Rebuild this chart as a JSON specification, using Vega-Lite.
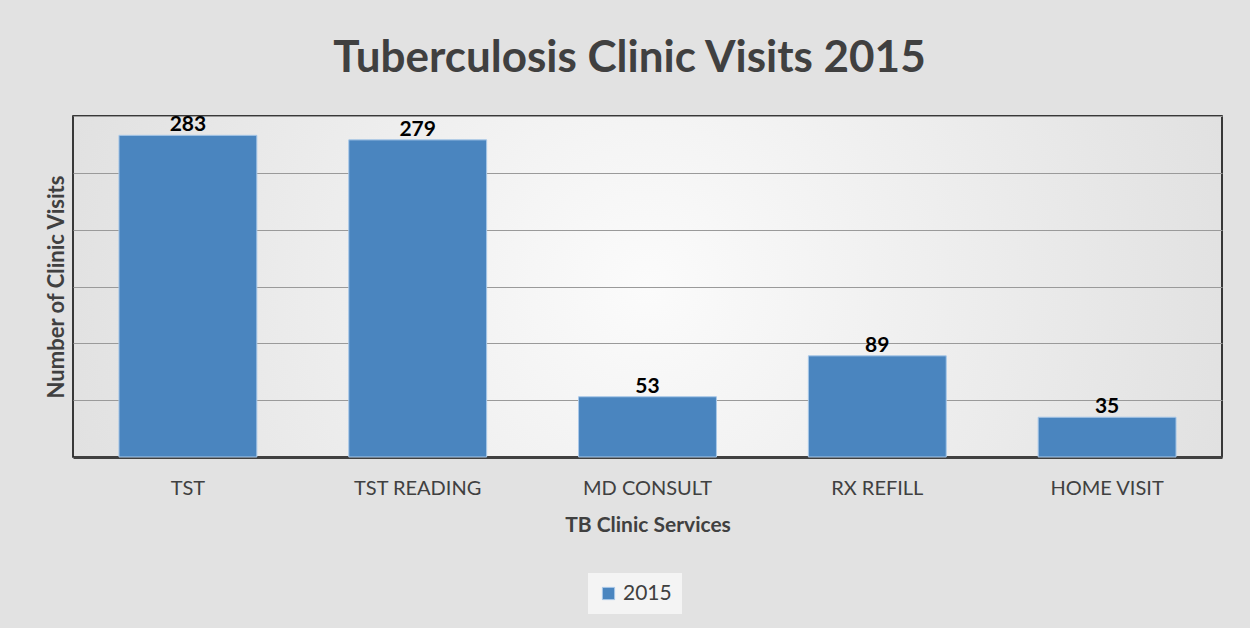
{
  "$schema": "https://vega.github.io/schema/vega-lite/v6.json",
  "width": 1149,
  "height": 341,
  "autosize": {"type": "none"},
  "padding": {"left": 73, "top": 116, "right": 28, "bottom": 171},
  "background": "#e2e2e2",
  "title": {
    "text": "Tuberculosis Clinic Visits 2015",
    "font": "Lato",
    "fontSize": 44,
    "fontWeight": "bold",
    "color": "#404040",
    "anchor": "middle",
    "dx": -18,
    "offset": 33
  },
  "data": {
    "values": [
      {"service": "TST", "visits": 283, "year": "2015"},
      {"service": "TST READING", "visits": 279, "year": "2015"},
      {"service": "MD CONSULT", "visits": 53, "year": "2015"},
      {"service": "RX REFILL", "visits": 89, "year": "2015"},
      {"service": "HOME VISIT", "visits": 35, "year": "2015"}
    ]
  },
  "encoding": {
    "x": {
      "field": "service",
      "type": "nominal",
      "sort": null,
      "scale": {"paddingInner": 0.4, "paddingOuter": 0.2},
      "axis": {
        "title": "TB Clinic Services",
        "labelAngle": 0,
        "labelFont": "Lato",
        "labelFontSize": 20,
        "labelColor": "#404040",
        "labelPadding": 21,
        "ticks": false,
        "domainColor": "#404040",
        "domainWidth": 3,
        "titleFont": "Lato",
        "titleFontSize": 21,
        "titleFontWeight": "bold",
        "titleColor": "#404040",
        "titlePadding": 16
      }
    },
    "y": {
      "field": "visits",
      "type": "quantitative",
      "scale": {"domain": [0, 300]},
      "axis": {
        "title": "Number of Clinic Visits",
        "values": [0, 50, 100, 150, 200, 250, 300],
        "labels": false,
        "ticks": false,
        "domain": false,
        "gridColor": "#9a9a9a",
        "gridWidth": 1,
        "titleFont": "Lato",
        "titleFontSize": 22,
        "titleFontWeight": "bold",
        "titleColor": "#404040",
        "titlePadding": 5
      }
    }
  },
  "layer": [
    {
      "mark": {"type": "bar", "stroke": "#a9c8e8", "strokeWidth": 1},
      "encoding": {
        "color": {
          "field": "year",
          "type": "nominal",
          "scale": {"range": ["#4a85bf"]},
          "legend": {
            "title": null,
            "orient": "none",
            "legendX": 515,
            "legendY": 457,
            "direction": "horizontal",
            "symbolType": "square",
            "symbolSize": 150,
            "symbolStrokeColor": "#a9c8e8",
            "symbolStrokeWidth": 1,
            "labelFont": "Lato",
            "labelFontSize": 21,
            "labelColor": "#404040",
            "padding": 10,
            "fillColor": "#f4f4f4"
          }
        }
      }
    },
    {
      "mark": {"type": "text", "baseline": "alphabetic", "dy": -4, "font": "Lato", "fontSize": 21, "fontWeight": "bold", "color": "#000000"},
      "encoding": {"text": {"field": "visits", "type": "quantitative"}}
    }
  ],
  "config": {
    "view": {
      "stroke": "#000000",
      "strokeWidth": 1.5,
      "fill": {
        "gradient": "radial",
        "x1": 0.5, "y1": 0.5, "r1": 0,
        "x2": 0.5, "y2": 0.5, "r2": 0.7,
        "stops": [
          {"offset": 0, "color": "#fbfbfb"},
          {"offset": 1, "color": "#d8d8d8"}
        ]
      }
    }
  }
}
